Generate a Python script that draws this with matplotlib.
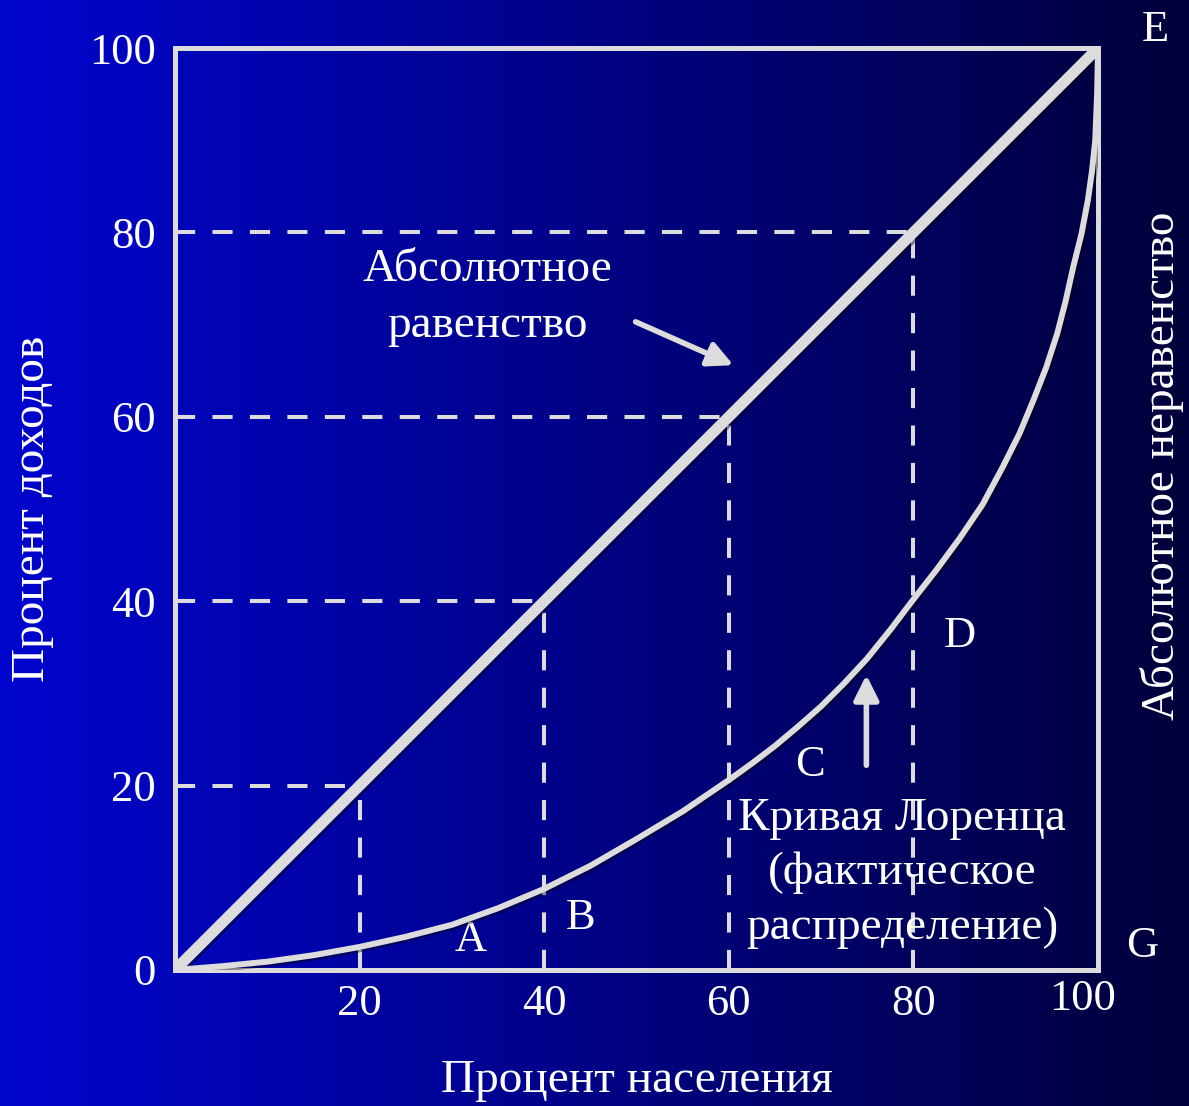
import matplotlib
matplotlib.use("Agg")
import matplotlib.pyplot as plt
import matplotlib.patheffects as pe
from matplotlib.transforms import ScaledTranslation
import numpy as np

# data
population = [0, 5, 10, 15, 20, 25, 30, 35, 40, 45, 50, 55, 60, 62.5, 65, 67.5, 70, 72.5, 75,
              77.5, 80, 82.5, 85, 87.5, 89.7, 91.5, 93.0, 94.4, 95.6, 96.5, 97.3, 98.2, 98.9,
              99.35, 99.7, 99.9, 100]
lorenz_income = [0, 0.4, 0.9, 1.6, 2.5, 3.6, 4.9, 6.7, 8.8, 11.3, 14.2, 17.2, 20.6, 22.4, 24.3,
                 26.4, 28.6, 31.1, 33.8, 36.9, 40.2, 43.4, 46.8, 50.5, 54.6, 58.2, 61.8, 65.4,
                 69.1, 72.6, 76.2, 79.8, 83.5, 86.7, 90, 95, 100]
equality_x = [0, 100]
equality_y = [0, 100]
guide_levels = [20, 40, 60, 80]
x_ticks = [20, 40, 60, 80, 100]
y_ticks = [0, 20, 40, 60, 80, 100]
point_labels = ["A", "B", "C", "D", "E", "G"]
point_x = [32.0, 43.9, 68.8, 85.0, 106.2, 104.8]
point_y = [3.3, 5.6, 22.2, 36.2, 102.0, 2.6]

plt.rcParams['font.family'] = ['Liberation Serif', 'DejaVu Serif']
LINE = '#dcdcdc'
TXT = 'white'

fig = plt.figure(figsize=(11.89, 11.06), dpi=100)

# background gradient, bright blue on the left to dark navy on the right
bg = fig.add_axes([0, 0, 1, 1], zorder=-10)
grad = np.linspace(0, 1, 512).reshape(1, -1)
r = np.zeros_like(grad)
g = 0.02 * (1 - grad)
b = 0.81 - 0.58 * grad
bg.imshow(np.dstack([r, g, b]), aspect='auto', extent=[0, 1, 0, 1])
bg.axis('off')

ax = fig.add_axes([0.1472, 0.1230, 0.9235 - 0.1472, 0.9566 - 0.1230])
ax.set_facecolor('none')
ax.set_xlim(0, 100)
ax.set_ylim(0, 100)

shadow = [pe.SimpleLineShadow(offset=(1.5, -1.5), alpha=0.4), pe.Normal()]

# dashed guide lines
for v in guide_levels:
    ax.plot([0, v], [v, v], color=LINE, lw=2.9, dashes=(5, 4.3), zorder=2)
    ax.plot([v, v], [0, v], color=LINE, lw=2.9, dashes=(5, 4.3), zorder=2)

ax.plot(equality_x, equality_y, color=LINE, lw=7.9, solid_capstyle='butt',
        path_effects=shadow, zorder=4)
ax.plot(population, lorenz_income, color=LINE, lw=4.3, solid_joinstyle='round',
        path_effects=shadow, zorder=4)

for s in ax.spines.values():
    s.set_color(LINE)
    s.set_linewidth(3.6)
    s.set_zorder(3)

ax.set_xticks(x_ticks)
ax.set_yticks(y_ticks)
ax.tick_params(length=0, labelsize=32, labelcolor=TXT)
ax.tick_params(axis='x', pad=10)
ax.tick_params(axis='y', pad=14)

# the last x label sits a little left and up in the original
last = ax.get_xticklabels()[-1]
last.set_transform(last.get_transform() + ScaledTranslation(-0.15, 0.05, fig.dpi_scale_trans))

ax.set_xlabel("Процент населения", fontsize=34, color=TXT, labelpad=26)
ax.set_ylabel("Процент доходов", fontsize=34, color=TXT, labelpad=25)

ax.text(33.8, 72.9, "Абсолютное\nравенство", fontsize=34, color=TXT,
        ha='center', va='center', linespacing=1.42)
ax.text(78.8, 10.5, "Кривая Лоренца\n(фактическое\nраспределение)", fontsize=34,
        color=TXT, ha='center', va='center', linespacing=1.38, zorder=5)
ax.text(106.9, 54.7, "Абсолютное неравенство", fontsize=34, color=TXT,
        rotation=90, ha='center', va='center', clip_on=False)

for lab, px, py in zip(point_labels, point_x, point_y):
    ax.text(px, py, lab, fontsize=32, color=TXT, ha='center', va='center', clip_on=False)

arrow_style = dict(arrowstyle='-|>,head_length=1.5,head_width=0.75', color=LINE, lw=4,
                   shrinkA=0, shrinkB=0)
ax.annotate("", xy=(60.5, 65.6), xytext=(49.9, 70.3), arrowprops=arrow_style, zorder=5)
ax.annotate("", xy=(74.9, 32.0), xytext=(74.9, 22.2), arrowprops=arrow_style, zorder=5)

fig.savefig("out.png", dpi=100)
